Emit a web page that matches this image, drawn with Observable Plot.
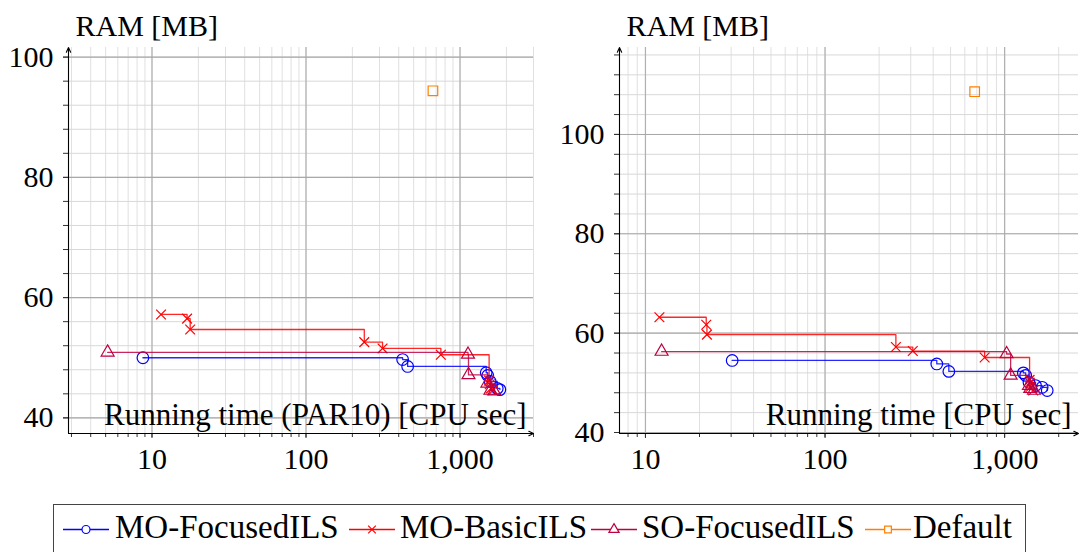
<!DOCTYPE html>
<html><head><meta charset="utf-8">
<script src="https://cdn.jsdelivr.net/npm/d3@7"></script>
<script src="https://cdn.jsdelivr.net/npm/@observablehq/plot@0.6"></script>
<style>
html,body{margin:0;padding:0;background:#fff;}
body{width:1081px;height:552px;overflow:hidden;position:relative;font-family:"Liberation Serif","Times New Roman",Tinos,"DejaVu Serif",serif;}
#p1{position:absolute;left:0;top:0;}
#p2{position:absolute;left:540px;top:0;}
#legend{position:absolute;left:53px;top:504px;width:973px;height:60px;border:1.3px solid #444;box-sizing:border-box;}
.item{position:absolute;top:0;height:50px;}
.item svg{position:absolute;top:0;}
.item span{position:absolute;top:4px;font-size:33px;white-space:nowrap;color:#000;}
</style></head>
<body>
<div id="p1"></div><div id="p2"></div><div id="legend"></div>
<script>
const FONT = '"Liberation Serif","Times New Roman",Tinos,"DejaVu Serif",serif';
// ---- series metadata ----
const seriesNames = ["MO-FocusedILS", "MO-BasicILS", "SO-FocusedILS", "Default"];
const seriesColors = ["#0000ff", "#ff0000", "#bf0040", "#ff8000"];
const seriesSymbols = ["circle", "times", "triangle", "square"];

// ---- left panel: Running time (PAR10) ----
const parMoFocusedTime = [8.73, 424, 457, 1479, 1514, 1570, 1745, 1815];
const parMoFocusedRam  = [50.0, 49.7, 48.55, 47.5, 47.05, 46.05, 44.9, 44.7];
const parMoBasicTime = [11.45, 16.9, 17.7, 239, 314, 751, 1545, 1560, 1590, 1640];
const parMoBasicRam  = [57.2, 56.5, 54.7, 52.6, 51.55, 50.5, 46.2, 45.6, 44.9, 44.6];
const parSoFocusedTime = [5.15, 1127, 1135, 1506, 1577, 1667];
const parSoFocusedRam  = [50.9, 50.55, 47.15, 45.75, 44.55, 44.45];
const parDefaultTime = [667];
const parDefaultRam  = [94.4];

// ---- right panel: Running time (CPU sec) ----
const cpuMoFocusedTime = [30.4, 419, 489, 1271, 1309, 1366, 1486, 1618, 1726];
const cpuMoFocusedRam  = [54.5, 53.8, 52.3, 52.0, 51.5, 50.1, 49.45, 49.1, 48.45];
const cpuMoBasicTime = [11.96, 21.8, 22.0, 248, 308, 774, 1377, 1380, 1390, 1443];
const cpuMoBasicRam  = [63.2, 61.7, 59.7, 57.2, 56.4, 55.1, 50.6, 50.0, 49.1, 48.45];
const cpuSoFocusedTime = [12.3, 1026, 1080, 1366, 1390, 1456];
const cpuSoFocusedRam  = [56.3, 55.8, 51.5, 49.45, 48.8, 48.45];
const cpuDefaultTime = [681];
const cpuDefaultRam  = [108.6];

// ---- axes ----
const xMajorTicks = [10, 100, 1000];
const leftYMajorTicks = [40, 60, 80, 100];
const rightYMajorTicks = [40, 60, 80, 100];
const yLabel = "RAM [MB]";
const leftXLabel = "Running time (PAR10) [CPU sec]";
const rightXLabel = "Running time [CPU sec]";
const leftXDomain = [2.87, 3000];
const leftYDomain = [37.4, 101.6];
const rightXDomain = [7.17, 2578];
const rightYDomain = [39.8, 117.5];

function rows(times, rams, si) {
  return times.map((t, i) => ({time: t, ram: rams[i], series: seriesNames[si]}));
}

function minorLog(domain) {
  const out = [];
  for (let e = -1; e <= 5; e++) for (let m = 1; m <= 9; m++) {
    const v = m * Math.pow(10, e);
    if (v >= domain[0] && v <= domain[1]) out.push(v);
  }
  return out;
}
function minorLin(domain, step) {
  const out = [];
  for (let v = Math.ceil(domain[0] / step) * step; v <= domain[1] + 1e-9; v += step) out.push(v);
  return out;
}

function panel({series, xDomain, yDomain, yMajor, xLabel, width, marginLeft, marginRight}) {
  const xMinor = minorLog(xDomain);
  const yMinor = minorLin(yDomain, 4);
  const marks = [
    Plot.ruleX(xMinor, {stroke: "#e0e0e0", strokeWidth: 1}),
    Plot.ruleY(yMinor, {stroke: "#d8d8d8", strokeWidth: 1}),
    Plot.ruleX(xMajorTicks, {stroke: "#b0b0b0", strokeWidth: 1.2}),
    Plot.ruleY(yMajor, {stroke: "#a8a8a8", strokeWidth: 1.1}),
    Plot.axisX({ticks: xMinor, tickFormat: () => "", tickSize: 4, label: null, stroke: "#333"}),
    Plot.axisX({ticks: xMajorTicks, tickFormat: d3.format(","), tickSize: 5, tickPadding: 9, label: null, fontSize: 30, stroke: "#333"}),
    Plot.axisY({ticks: yMinor, tickFormat: () => "", tickSize: 5, label: null, stroke: "#333"}),
    Plot.axisY({ticks: yMajor, tickFormat: d3.format("d"), tickSize: 5, tickPadding: 10, label: null, fontSize: 30, stroke: "#333"}),
    Plot.arrow([{x1: xDomain[0], y1: yDomain[0], x2: xDomain[0], y2: yDomain[1]}],
      {x1: "x1", y1: "y1", x2: "x2", y2: "y2", stroke: "#000", strokeWidth: 1.1, headLength: 7, headAngle: 50}),
    Plot.arrow([{x1: xDomain[0], y1: yDomain[0], x2: xDomain[1], y2: yDomain[0]}],
      {x1: "x1", y1: "y1", x2: "x2", y2: "y2", stroke: "#000", strokeWidth: 1.1, headLength: 7, headAngle: 50})
  ];
  series.forEach((s, i) => {
    if (s.length > 1) {
      marks.push(Plot.line(s, {x: "time", y: "ram", curve: "step-after", stroke: seriesColors[i], strokeWidth: 1.3, strokeOpacity: 0.85}));
    }
    const r = seriesSymbols[i] === "times" ? 4.5 : seriesSymbols[i] === "triangle" ? 4.8 : seriesSymbols[i] === "square" ? 5.4 : 5.8;
    marks.push(Plot.dot(s, {x: "time", y: "ram", symbol: () => seriesSymbols[i], r, fill: "none", stroke: seriesColors[i], strokeWidth: 1.2}));
  });
  marks.push(Plot.text([yLabel], {frameAnchor: "top-left", textAnchor: "start", lineAnchor: "bottom", dx: 7, dy: -12, fontSize: 30, fill: "#000"}));
  marks.push(Plot.text([xLabel], {frameAnchor: "bottom-right", textAnchor: "end", lineAnchor: "bottom", dx: -7, dy: -9, fontSize: 31, fill: "#000"}));
  return Plot.plot({
    width, height: 500,
    marginLeft, marginRight, marginTop: 47, marginBottom: 67,
    style: {fontFamily: FONT, fontSize: "30px", background: "transparent", color: "#000"},
    x: {type: "log", domain: xDomain},
    y: {domain: yDomain},
    symbol: {domain: seriesSymbols, range: seriesSymbols},
    marks
  });
}

const leftSeries = [
  rows(parMoFocusedTime, parMoFocusedRam, 0),
  rows(parMoBasicTime, parMoBasicRam, 1),
  rows(parSoFocusedTime, parSoFocusedRam, 2),
  rows(parDefaultTime, parDefaultRam, 3)
];
const rightSeries = [
  rows(cpuMoFocusedTime, cpuMoFocusedRam, 0),
  rows(cpuMoBasicTime, cpuMoBasicRam, 1),
  rows(cpuSoFocusedTime, cpuSoFocusedRam, 2),
  rows(cpuDefaultTime, cpuDefaultRam, 3)
];

document.getElementById("p1").append(panel({series: leftSeries, xDomain: leftXDomain, yDomain: leftYDomain, yMajor: leftYMajorTicks, xLabel: leftXLabel, width: 540, marginLeft: 68, marginRight: 7}));
document.getElementById("p2").append(panel({series: rightSeries, xDomain: rightXDomain, yDomain: rightYDomain, yMajor: rightYMajorTicks, xLabel: rightXLabel, width: 541, marginLeft: 79, marginRight: 3}));

// ---- legend ----
const legendSwatchLeft = [9, 295, 537, 811];
const legendTextLeft = [61, 346, 588, 859];
const legend = document.getElementById("legend");
seriesNames.forEach((name, i) => {
  const item = document.createElement("div");
  item.className = "item";
  item.style.left = legendSwatchLeft[i] + "px";
  const sym = d3.symbol(d3[{circle: "symbolCircle", times: "symbolTimes", triangle: "symbolTriangle", square: "symbolSquare"}[seriesSymbols[i]]],
    seriesSymbols[i] === "circle" ? 50 : seriesSymbols[i] === "times" ? 40 : 45)();
  item.innerHTML = `<svg width="46" height="50"><line x1="0" x2="46" y1="24.5" y2="24.5" stroke="${seriesColors[i]}" stroke-width="1.3"/>` +
    `<path d="${sym}" transform="translate(23,24.5)" fill="white" stroke="${seriesColors[i]}" stroke-width="1.2"/></svg>` +
    `<span style="left:${legendTextLeft[i] - legendSwatchLeft[i]}px">${name}</span>`;
  legend.append(item);
});
</script>
</body></html>
